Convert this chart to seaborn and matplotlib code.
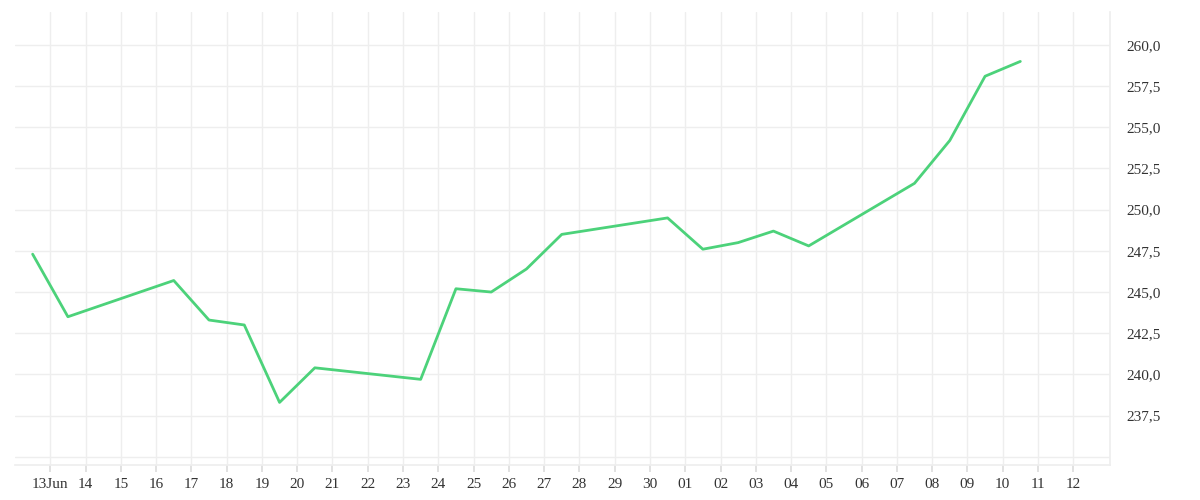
import matplotlib
matplotlib.use("Agg")
import matplotlib.pyplot as plt
import seaborn as sns
import pandas as pd
import numpy as np

dates = ["2024-06-12 12:00","2024-06-13 12:00","2024-06-16 12:00","2024-06-17 12:00","2024-06-18 12:00",
         "2024-06-19 12:00","2024-06-20 12:00","2024-06-23 12:00","2024-06-24 12:00","2024-06-25 12:00",
         "2024-06-26 12:00","2024-06-27 12:00","2024-06-30 12:00","2024-07-01 12:00","2024-07-02 12:00",
         "2024-07-03 12:00","2024-07-04 12:00","2024-07-07 12:00","2024-07-08 12:00","2024-07-09 12:00",
         "2024-07-10 12:00"]
values = [247.3,243.5,245.7,243.3,243.0,238.3,240.4,239.7,245.2,245.0,246.4,248.5,249.5,247.6,
          248.0,248.7,247.8,251.6,254.2,258.1,259.0]
ytick_vals = [237.5,240.0,242.5,245.0,247.5,250.0,252.5,255.0,257.5,260.0]

df = pd.DataFrame({"date": pd.to_datetime(dates), "value": values})

sns.set_theme(style="white")
plt.rcParams['font.family'] = ['Liberation Serif', 'DejaVu Serif']

fig = plt.figure(figsize=(12, 5), dpi=100)
ax = fig.add_axes([0.0125, 0.07, 0.9125, 0.906])
sns.lineplot(data=df, x="date", y="value", ax=ax, color="#4cd27a", linewidth=2)

ticks = pd.date_range("2024-06-13", "2024-07-12", freq="D")
ax.set_xticks(ticks)
ax.set_xticklabels(["13Jun" if i == 0 else t.strftime("%d") for i, t in enumerate(ticks)],
                   fontsize=11, color="#333333")
ax.set_xlim(pd.Timestamp("2024-06-12"), pd.Timestamp("2024-07-13 01:00"))
ax.set_ylim(234.5, 262)
ax.set_yticks([235.0] + ytick_vals)
ax.set_yticklabels([""] + [f"{v:.1f}".replace(".", ",") for v in ytick_vals], fontsize=11, color="#333333")
ax.yaxis.tick_right()
ax.tick_params(axis="y", length=0, pad=12)
ax.tick_params(axis="x", length=5, color="#dddddd", pad=4, bottom=True)
ax.grid(True, color="#eeeeee", linewidth=1)
for s in ["top", "left"]:
    ax.spines[s].set_visible(False)
ax.spines["right"].set_color("#eeeeee")
ax.spines["bottom"].set_color("#eeeeee")
ax.set_xlabel("")
ax.set_ylabel("")
fig.savefig("out.png")
